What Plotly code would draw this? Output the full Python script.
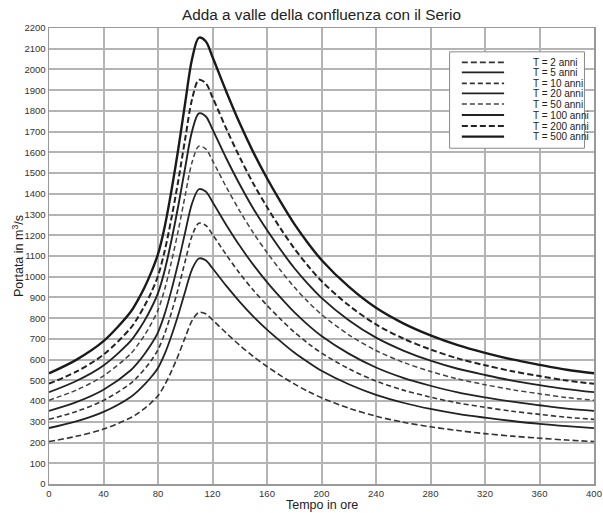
import plotly.graph_objects as go

# Time axis (hours)
tempo = [0, 20, 40, 60, 65, 70, 75, 80, 85, 90, 95, 100, 105, 110, 115, 120, 130, 140, 150,
         160, 170, 180, 190, 200, 220, 240, 260, 280, 300, 320, 340, 360, 380, 400]

# Discharge (m3/s) for each return period
q_T2 = [205, 230, 265, 320, 340, 364, 392, 426, 479, 546, 623, 708, 788, 828, 821, 792, 729, 669, 615,
        567, 523, 483, 447, 416, 366, 327, 298, 276, 258, 243, 231, 221, 212, 205]
q_T5 = [270, 302, 348, 420, 447, 479, 516, 560, 629, 718, 819, 930, 1036, 1088, 1079, 1041, 957, 879, 808,
        745, 688, 634, 588, 546, 481, 430, 392, 362, 338, 320, 304, 290, 279, 270]
q_T10 = [312, 350, 403, 486, 517, 554, 596, 648, 727, 830, 947, 1076, 1198, 1258, 1248, 1204, 1107, 1016, 935,
         862, 795, 733, 679, 632, 556, 497, 453, 419, 391, 370, 351, 336, 322, 312]
q_T20 = [353, 395, 455, 549, 584, 626, 674, 732, 822, 939, 1071, 1216, 1354, 1422, 1411, 1361, 1251, 1149, 1057,
         974, 899, 829, 768, 714, 629, 562, 512, 474, 442, 418, 397, 380, 364, 353]
q_T50 = [404, 453, 522, 629, 670, 717, 773, 839, 942, 1076, 1227, 1394, 1552, 1630, 1617, 1560, 1434, 1317, 1211,
         1117, 1030, 950, 880, 818, 720, 644, 587, 543, 507, 479, 455, 435, 417, 404]
q_T100 = [443, 497, 572, 690, 735, 787, 848, 921, 1033, 1180, 1346, 1529, 1702, 1788, 1774, 1711, 1573, 1445, 1328,
          1225, 1130, 1042, 966, 898, 790, 706, 644, 595, 556, 526, 499, 477, 458, 443]
q_T200 = [484, 542, 624, 753, 801, 858, 924, 1004, 1127, 1287, 1468, 1667, 1856, 1950, 1934, 1866, 1716, 1576, 1449,
          1336, 1232, 1137, 1053, 979, 862, 770, 702, 649, 606, 573, 544, 521, 499, 484]
q_T500 = [534, 599, 689, 831, 885, 947, 1021, 1109, 1244, 1421, 1621, 1841, 2050, 2153, 2136, 2060, 1895, 1740, 1600,
          1475, 1361, 1255, 1163, 1081, 952, 850, 775, 717, 670, 633, 601, 575, 551, 534]

series_names = ["T = 2 anni", "T = 5 anni", "T = 10 anni", "T = 20 anni",
                "T = 50 anni", "T = 100 anni", "T = 200 anni", "T = 500 anni"]
series_values = [q_T2, q_T5, q_T10, q_T20, q_T50, q_T100, q_T200, q_T500]

x_ticks = [0, 40, 80, 120, 160, 200, 240, 280, 320, 360, 400]
y_ticks = list(range(0, 2201, 100))

styles = [
    dict(color="#333333", width=1.6, dash="6px,3px"),
    dict(color="#222222", width=1.8, dash="solid"),
    dict(color="#333333", width=1.6, dash="5px,3px"),
    dict(color="#222222", width=1.8, dash="solid"),
    dict(color="#444444", width=1.5, dash="5px,3px"),
    dict(color="#222222", width=1.9, dash="solid"),
    dict(color="#222222", width=2.0, dash="6px,3px"),
    dict(color="#1a1a1a", width=2.4, dash="solid"),
]

FONT = "Liberation Sans, Arial, sans-serif"

fig = go.Figure()
for name, vals, st in zip(series_names, series_values, styles):
    fig.add_trace(go.Scatter(
        x=tempo, y=vals, mode="lines", name=name,
        line=dict(color=st["color"], width=st["width"], dash=st["dash"],
                  shape="spline", smoothing=0.9),
        showlegend=False, hoverinfo="skip",
    ))

# Manual legend (box, samples, labels) in axis coordinates
shapes = [dict(type="rect", xref="x", yref="y", x0=294, x1=393, y0=1620, y1=2085,
               fillcolor="white", line=dict(color="#888888", width=1), layer="above")]
annotations = []
row_y = [2034, 1986, 1933, 1885, 1833, 1780, 1727, 1676]
for name, st, yy in zip(series_names, styles, row_y):
    shapes.append(dict(type="line", xref="x", yref="y", x0=303, x1=334, y0=yy, y1=yy,
                       line=dict(color=st["color"], width=st["width"], dash=st["dash"]),
                       layer="above"))
    annotations.append(dict(x=353.5, y=yy, xref="x", yref="y", text=name, showarrow=False,
                            xanchor="left", yanchor="middle",
                            font=dict(family=FONT, size=10, color="#222222")))

annotations.append(dict(x=0.5, y=0, xref="paper", yref="paper", text="Tempo in ore",
                        showarrow=False, xanchor="center", yanchor="middle", yshift=-21,
                        font=dict(family=FONT, size=12.5, color="#222222")))
annotations.append(dict(x=0, y=0.5, xref="paper", yref="paper", text="Portata in m<sup>3</sup>/s",
                        showarrow=False, xanchor="center", yanchor="middle", textangle=-90,
                        xshift=-31,
                        font=dict(family=FONT, size=12.5, color="#222222")))

fig.update_layout(
    width=603, height=513,
    margin=dict(l=49, r=9, t=28, b=29),
    paper_bgcolor="white", plot_bgcolor="white",
    title=dict(text="Adda a valle della confluenza con il Serio", xref="paper", x=0.5,
               xanchor="center", y=0.971, yanchor="middle",
               font=dict(family=FONT, size=15.3, color="#222222")),
    shapes=shapes, annotations=annotations,
    showlegend=False, hovermode=False,
)
fig.update_xaxes(range=[0, 400], tickvals=x_ticks, ticktext=[str(v) for v in x_ticks],
                 showgrid=True, gridcolor="#b4b4b4", gridwidth=2, zeroline=False,
                 showline=True, linecolor="#999999", linewidth=1.5, mirror=True,
                 ticks="", tickfont=dict(family=FONT, size=9.5, color="#333333"),
                 automargin=False)
fig.update_yaxes(range=[0, 2200], tickvals=y_ticks, ticktext=[str(v) for v in y_ticks],
                 showgrid=True, gridcolor="#b4b4b4", gridwidth=2, zeroline=False,
                 showline=True, linecolor="#999999", linewidth=1.5, mirror=True,
                 ticks="", tickfont=dict(family=FONT, size=9.5, color="#333333"),
                 automargin=False)

# Remove the default page margin so the 603x513 figure fills the window exactly
fig.write_html("out.html",
               config={"displayModeBar": False, "staticPlot": True},
               post_script="document.body.style.margin='0';document.body.style.overflow='hidden';")
